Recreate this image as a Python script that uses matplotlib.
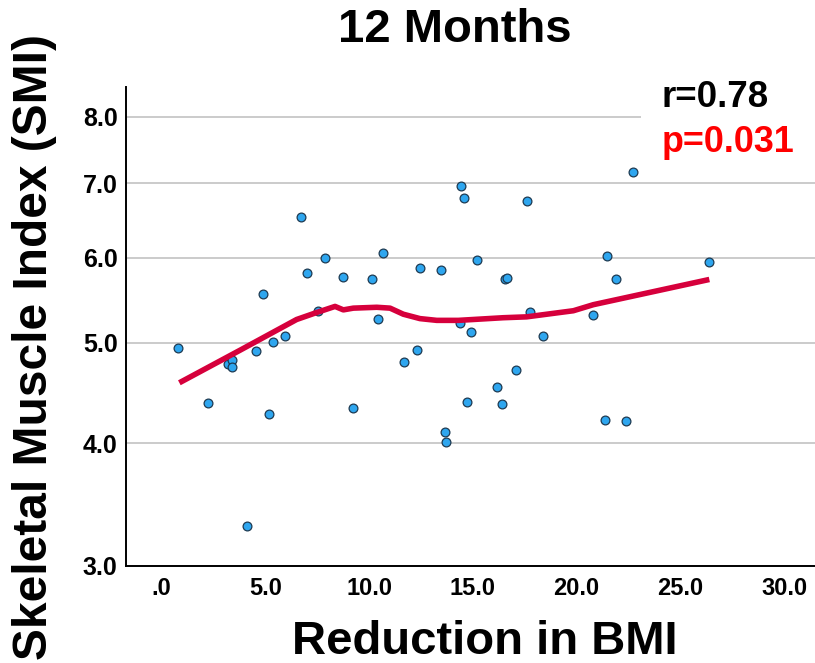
import numpy as np
import matplotlib
matplotlib.use("Agg")
import matplotlib.pyplot as plt
from matplotlib.patches import Rectangle

plt.rcParams['font.family'] = ['Liberation Sans', 'DejaVu Sans']

# Data
bmi_reduction = [0.81, 2.23, 3.19, 3.41, 3.38, 4.13, 4.55, 4.90, 5.19, 5.36,
                 5.95, 6.71, 6.99, 7.55, 7.88, 8.76, 9.21, 10.13, 10.44, 10.68,
                 11.68, 12.29, 12.45, 13.45, 13.66, 13.70, 14.41, 14.59, 14.40, 14.72,
                 14.89, 15.18, 16.18, 16.42, 16.55, 16.63, 17.06, 17.59, 17.75, 18.36,
                 20.77, 21.36, 21.47, 21.88, 22.36, 22.70, 26.39]
smi = [4.94, 4.38, 4.77, 4.82, 4.74, 3.30, 4.91, 5.56, 4.27, 5.01,
       5.07, 6.53, 5.81, 5.36, 5.99, 5.76, 4.33, 5.73, 5.26, 6.06,
       4.80, 4.92, 5.87, 5.84, 4.10, 4.01, 6.96, 6.79, 5.22, 4.39,
       5.12, 5.97, 4.54, 4.37, 5.74, 5.75, 4.71, 6.75, 5.35, 5.08,
       5.31, 4.21, 6.02, 5.74, 4.20, 7.16, 5.94]

loess_x = [0.86, 3.78, 6.51, 7.48, 8.36, 8.76, 9.24, 10.37, 11.01, 11.65,
           12.45, 13.26, 14.30, 15.02, 16.46, 17.59, 19.84, 20.80, 26.39]
loess_y = [4.58, 4.92, 5.26, 5.34, 5.41, 5.37, 5.39, 5.40, 5.39, 5.32,
           5.27, 5.25, 5.25, 5.26, 5.28, 5.29, 5.36, 5.43, 5.73]

x_ticks = [0, 5, 10, 15, 20, 25, 30]
x_tick_labels = [".0", "5.0", "10.0", "15.0", "20.0", "25.0", "30.0"]
y_ticks = [3, 4, 5, 6, 7, 8]
y_tick_labels = ["3.0", "4.0", "5.0", "6.0", "7.0", "8.0"]

title = "12 Months"
x_label = "Reduction in BMI"
y_label = "Skeletal Muscle Index (SMI)"
r_text = "r=0.78"
p_text = "p=0.031"

W, H = 815, 663
fig = plt.figure(figsize=(W / 100, H / 100), dpi=100)
ax = fig.add_axes([126 / W, (H - 565.7) / H, (W - 126) / W, (565.7 - 86.7) / H])

ax.set_yscale('function', functions=(lambda v: np.power(np.clip(v, 1e-9, None), 0.2),
                                     lambda v: np.power(np.clip(v, 0, None), 5.0)))
ax.set_xlim(-1.71, 31.48)
ax.set_ylim(3.0, 8.488)

ax.grid(axis='y', color='#bdbdbd', linewidth=1.1, zorder=0)
ax.set_axisbelow(True)

ax.scatter(bmi_reduction, smi, s=40, facecolor='#2ea6ef', edgecolor='#1d3a52',
           linewidth=0.9, zorder=3)
ax.plot(loess_x, loess_y, color='#d6003c', linewidth=4.0, solid_capstyle='butt',
        zorder=4)

ax.set_xticks(x_ticks)
ax.set_xticklabels(x_tick_labels)
ax.set_yticks(y_ticks)
ax.set_yticklabels(y_tick_labels)
ax.yaxis.set_minor_locator(matplotlib.ticker.NullLocator())
ax.tick_params(axis='both', length=0)
ax.tick_params(axis='x', pad=8, labelsize=17)
ax.tick_params(axis='y', pad=6, labelsize=18)
for lab in ax.get_xticklabels() + ax.get_yticklabels():
    lab.set_fontweight('bold')

for s in ['top', 'right']:
    ax.spines[s].set_visible(False)
for s in ['left', 'bottom']:
    ax.spines[s].set_color('black')
    ax.spines[s].set_linewidth(1.4)

# white box behind the statistics text
fig.add_artist(Rectangle((641 / W, (H - 162) / H), (W - 641) / W, 80 / H,
                         transform=fig.transFigure, facecolor='white',
                         edgecolor='none', zorder=5))

fig.text(662 / W, 1 - 107 / H, r_text, fontsize=26.5, fontweight='bold',
         color='black', ha='left', va='baseline', zorder=6)
fig.text(662 / W, 1 - 152 / H, p_text, fontsize=25.8, fontweight='bold',
         color='#ff0000', ha='left', va='baseline', zorder=6)

fig.text(455 / W, 1 - 42 / H, title, fontsize=34, fontweight='bold',
         ha='center', va='baseline')
fig.text(485 / W, 1 - 654 / H, x_label, fontsize=34, fontweight='bold',
         ha='center', va='baseline')
fig.text(35 / W, 1 - 347.5 / H, y_label, fontsize=34.5, fontweight='bold',
         ha='center', va='center', rotation=90)

fig.savefig('out.png', dpi=100)
